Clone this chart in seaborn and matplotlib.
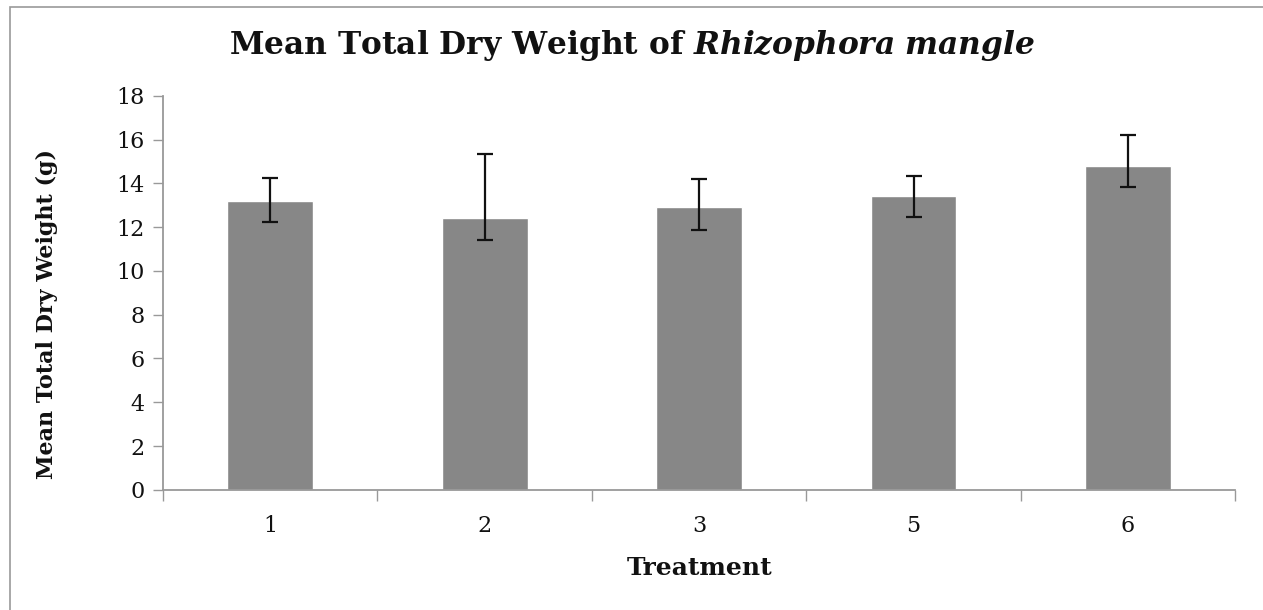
import numpy as np
import pandas as pd
import seaborn as sns
import matplotlib.pyplot as plt
from matplotlib.patches import Rectangle

treatments = ['1', '2', '3', '5', '6']
mean_weight = [13.2, 12.4, 12.9, 13.4, 14.8]
err_low = [0.95, 1.0, 1.05, 0.95, 0.95]
err_high = [1.05, 2.95, 1.3, 0.95, 1.4]

df = pd.DataFrame({'Treatment': treatments, 'Weight': mean_weight})

sns.set_style('white')
plt.rcParams['font.family'] = ['DejaVu Serif']
plt.rcParams['mathtext.fontset'] = 'dejavuserif'
plt.rcParams['text.color'] = '#111111'
plt.rcParams['axes.labelcolor'] = '#111111'

fig = plt.figure(figsize=(12.63, 6.10), dpi=100)
ax = fig.add_axes([0.129, 0.197, 0.849, 0.646])

sns.barplot(data=df, x='Treatment', y='Weight', color='#878787', width=0.4,
            saturation=1, errorbar=None, ax=ax)
ax.errorbar(np.arange(len(treatments)), mean_weight, yerr=[err_low, err_high],
            fmt='none', ecolor='#111111', elinewidth=1.6, capsize=6, capthick=1.6)

ax.set_xlim(-0.5, len(treatments) - 0.5)
ax.set_ylim(0, 18)
ax.set_yticks(range(0, 19, 2))

# excel style: tick marks between categories
ax.set_xticks(np.arange(-0.5, len(treatments)), minor=True)
ax.tick_params(axis='x', which='major', length=0, pad=18, labelsize=16, labelcolor='#111111')
ax.tick_params(axis='x', which='minor', length=8, width=1, color='#999999', direction='out')
ax.tick_params(axis='y', length=7, width=1, color='#999999', direction='out',
               labelsize=16, pad=6, labelcolor='#111111')
ax.xaxis.set_tick_params(bottom=True, which='both')
ax.yaxis.set_tick_params(left=True)

for s in ['top', 'right']:
    ax.spines[s].set_visible(False)
for s in ['left', 'bottom']:
    ax.spines[s].set_color('#999999')
    ax.spines[s].set_linewidth(1.3)

ax.set_xlabel('Treatment', fontsize=18, fontweight='bold', va='center')
ax.set_ylabel('Mean Total Dry Weight (g)', fontsize=16, fontweight='bold', va='center')
ax.xaxis.set_label_coords(0.5, -0.198)
ax.yaxis.set_label_coords(-0.108, 0.445)

fig.text(0.5, 0.926, r'Mean Total Dry Weight of $\mathbfit{Rhizophora\ mangle}$',
         ha='center', va='center', fontsize=22.5, fontweight='bold')

fig.patches.append(Rectangle((10 / 1263, -0.1), 1.2, 1.1 - 7 / 610,
                             transform=fig.transFigure, fill=False,
                             edgecolor='#999999', linewidth=1.2))

fig.savefig('out.png', dpi=100)
